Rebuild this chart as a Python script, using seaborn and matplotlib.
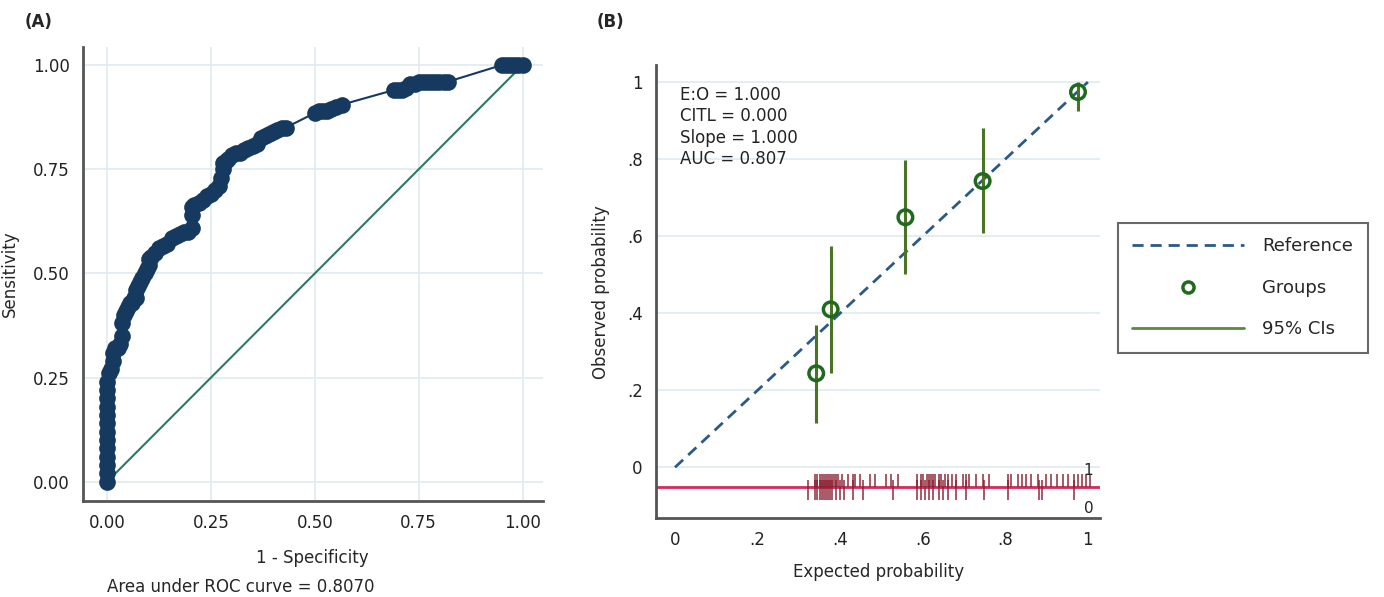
import numpy as np
import matplotlib
matplotlib.use("Agg")
import matplotlib.pyplot as plt
from matplotlib.lines import Line2D
import seaborn as sns

# ROC curve (panel A)
fpr = [0, 0, 0, 0, 0, 0, 0, 0, 0, 0, 0, 0, 0,
       0.005, 0.01, 0.015, 0.015, 0.02, 0.025, 0.03, 0.035, 0.035, 0.04, 0.045,
       0.05, 0.055, 0.06, 0.065, 0.07, 0.07, 0.075, 0.08, 0.085, 0.09, 0.095,
       0.10, 0.10, 0.105, 0.115, 0.125, 0.135, 0.145, 0.155, 0.165, 0.175,
       0.185, 0.195, 0.205, 0.205, 0.205, 0.21, 0.22, 0.23, 0.24, 0.25, 0.26,
       0.27, 0.275, 0.28, 0.28, 0.285, 0.29, 0.30, 0.31, 0.32, 0.33, 0.34,
       0.35, 0.36, 0.37, 0.38, 0.39, 0.40, 0.41, 0.42, 0.43,
       0.50, 0.51, 0.52, 0.53, 0.54, 0.55, 0.565,
       0.69, 0.70, 0.71, 0.72, 0.73, 0.74, 0.75, 0.76, 0.77, 0.78, 0.79, 0.80,
       0.81, 0.82, 0.95, 0.96, 0.97, 0.98, 0.99, 1.0]
tpr = [0, 0.02, 0.04, 0.06, 0.08, 0.10, 0.12, 0.14, 0.16, 0.18, 0.20, 0.22, 0.24,
       0.26, 0.27, 0.29, 0.31, 0.32, 0.32, 0.33, 0.35, 0.38, 0.40, 0.41,
       0.42, 0.43, 0.43, 0.44, 0.44, 0.46, 0.47, 0.48, 0.49, 0.50, 0.51,
       0.52, 0.535, 0.54, 0.55, 0.56, 0.565, 0.57, 0.585, 0.59, 0.595,
       0.60, 0.60, 0.61, 0.64, 0.66, 0.665, 0.67, 0.675, 0.685, 0.69, 0.70,
       0.71, 0.73, 0.75, 0.765, 0.77, 0.775, 0.785, 0.79, 0.79, 0.795, 0.80,
       0.805, 0.81, 0.825, 0.83, 0.835, 0.84, 0.845, 0.85, 0.85,
       0.885, 0.89, 0.89, 0.89, 0.895, 0.90, 0.905,
       0.94, 0.94, 0.94, 0.945, 0.955, 0.955, 0.96, 0.96, 0.96, 0.96, 0.96, 0.96,
       0.96, 0.96, 1.0, 1.0, 1.0, 1.0, 1.0, 1.0]
chance = [0, 1]

# calibration (panel B)
grp_exp = [0.342, 0.377, 0.558, 0.745, 0.976]
grp_obs = [0.244, 0.410, 0.649, 0.743, 0.974]
grp_lo = [0.114, 0.244, 0.501, 0.608, 0.925]
grp_hi = [0.369, 0.574, 0.797, 0.880, 1.000]

# predicted probabilities of events (1) and non-events (0)
rug_1 = [0.34, 0.345, 0.35, 0.355, 0.36, 0.365, 0.37, 0.375, 0.38, 0.385, 0.39,
         0.395, 0.405, 0.42, 0.43, 0.437, 0.449, 0.473, 0.485, 0.51, 0.522,
         0.539, 0.587, 0.595, 0.60, 0.61, 0.615, 0.62, 0.625, 0.63, 0.64, 0.645,
         0.655, 0.66, 0.67, 0.68, 0.697, 0.704, 0.711, 0.728, 0.745, 0.76,
         0.806, 0.813, 0.83, 0.84, 0.85, 0.862, 0.879, 0.898, 0.91, 0.925,
         0.94, 0.951, 0.966, 0.975, 0.985, 0.995, 1.005]
rug_0 = [0.323, 0.34, 0.345, 0.35, 0.355, 0.36, 0.365, 0.37, 0.375, 0.38, 0.39,
         0.40, 0.41, 0.43, 0.456, 0.527, 0.587, 0.595, 0.605, 0.615, 0.625,
         0.64, 0.65, 0.66, 0.68, 0.704, 0.748, 0.806, 0.881, 0.89, 0.966]

sns.set_style("white")
plt.rcParams['font.family'] = ['DejaVu Sans']
plt.rcParams['font.size'] = 12

navy = '#163a5f'
spine_c = '#555555'
grid_c = '#e2edf1'

fig = plt.figure(figsize=(13.84, 5.97), dpi=100)
axA = fig.add_axes([0.060, 0.161, 0.332, 0.760])
axB = fig.add_axes([0.474, 0.132, 0.321, 0.759])

# Panel A
sns.lineplot(x=fpr, y=tpr, ax=axA, sort=False, estimator=None, color=navy,
             lw=1.5, marker='o', markersize=12, markeredgewidth=0, zorder=3)
sns.lineplot(x=chance, y=chance, ax=axA, color='#2e7a5e', lw=1.5, zorder=2)
axA.set_xlim(-0.058, 1.048)
axA.set_ylim(-0.046, 1.043)
ticks = [0, 0.25, 0.5, 0.75, 1.0]
axA.set_xticks(ticks)
axA.set_yticks(ticks)
axA.set_xticklabels([f"{t:.2f}" for t in ticks])
axA.set_yticklabels([f"{t:.2f}" for t in ticks])
axA.grid(True, color=grid_c, lw=1.3)
axA.set_xlabel("1 - Specificity", labelpad=12)
axA.set_ylabel("Sensitivity", labelpad=10)

# Panel B
sns.lineplot(x=chance, y=chance, ax=axB, color='#2a5a85', lw=2,
             dashes=(4, 2.5), zorder=3)
axB.vlines(grp_exp, grp_lo, grp_hi, color='#4a7424', lw=2.2, zorder=4)
sns.scatterplot(x=grp_exp, y=grp_obs, ax=axB, s=110, facecolor='none',
                edgecolor='#1f6a1f', linewidth=2.5, zorder=5)
axB.axhline(-0.052, color='#d42a5c', lw=2, zorder=2)
axB.vlines(rug_1, -0.052, -0.016, color='#8b1f30', lw=1.3, alpha=0.8, zorder=3)
axB.vlines(rug_0, -0.086, -0.034, color='#8b1f30', lw=1.3, alpha=0.8, zorder=3)
axB.text(0.99, -0.008, "1", ha='left', va='center', fontsize=11, color='#222')
axB.text(0.99, -0.106, "0", ha='left', va='center', fontsize=11, color='#222')
axB.set_xlim(-0.046, 1.03)
axB.set_ylim(-0.132, 1.044)
bt = [0, 0.2, 0.4, 0.6, 0.8, 1.0]
blabels = ["0", ".2", ".4", ".6", ".8", "1"]
axB.set_xticks(bt)
axB.set_yticks(bt)
axB.set_xticklabels(blabels)
axB.set_yticklabels(blabels)
axB.yaxis.grid(True, color=grid_c, lw=1.3)
axB.set_xlabel("Expected probability", labelpad=10)
axB.set_ylabel("Observed probability", labelpad=12)
axB.text(0.012, 0.99, "E:O = 1.000\nCITL = 0.000\nSlope = 1.000\nAUC = 0.807",
         ha='left', va='top', fontsize=12, linespacing=1.25, color='#222')

for ax in (axA, axB):
    for s in ('top', 'right'):
        ax.spines[s].set_visible(False)
    for s in ('left', 'bottom'):
        ax.spines[s].set_color(spine_c)
        ax.spines[s].set_linewidth(2)
    ax.tick_params(direction='out', length=6, width=1.5, color=spine_c,
                   labelsize=12, labelcolor='#222')

# legend sits outside panel B, to the right
handles = [Line2D([], [], color='#2a5a85', lw=2, dashes=(4, 2.5)),
           Line2D([], [], ls='none', marker='o', markersize=8, mfc='none',
                  mec='#1f6a1f', mew=2.5),
           Line2D([], [], color='#5a8a3a', lw=2)]
leg = fig.legend(handles, ["Reference", "Groups", "95% CIs"], loc='upper left',
                 bbox_to_anchor=(1118 / 1384, 1 - 223 / 597), borderaxespad=0,
                 frameon=True, fancybox=False, edgecolor='#444',
                 handlelength=6.2, handletextpad=1.0, labelspacing=1.3,
                 borderpad=0.8, fontsize=13)
leg.get_frame().set_linewidth(1.5)

fig.text(25 / 1384, 1 - 22 / 597, "(A)", fontweight='bold', fontsize=12,
         va='center')
fig.text(597 / 1384, 1 - 22 / 597, "(B)", fontweight='bold', fontsize=12,
         va='center')
fig.text(241 / 1384, 1 - 587 / 597, "Area under ROC curve = 0.8070",
         ha='center', va='center', fontsize=12)

fig.savefig("out.png", dpi=100)
